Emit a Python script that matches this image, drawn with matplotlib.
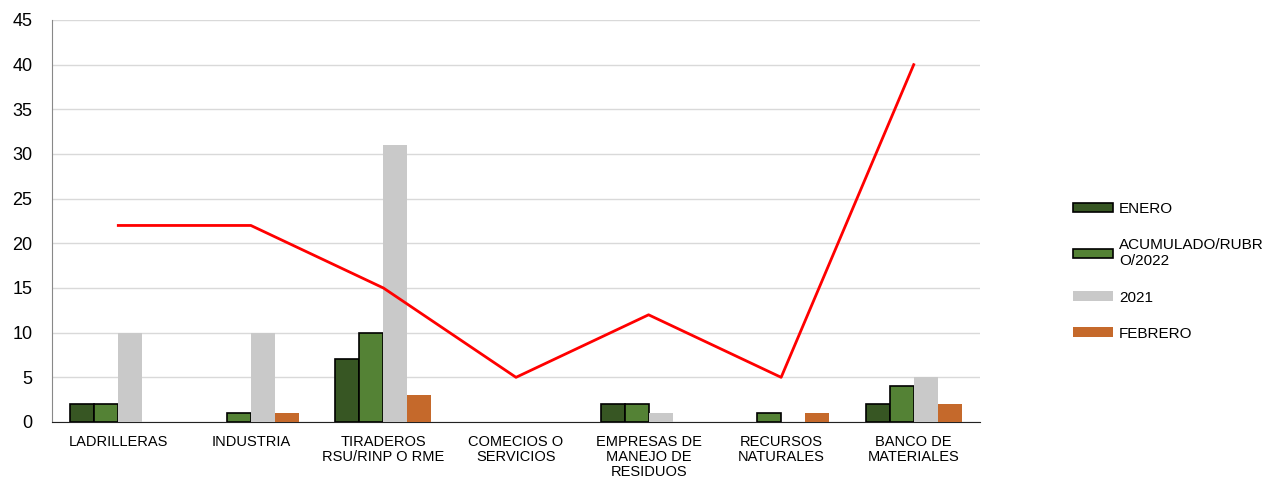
import numpy as np
import matplotlib.pyplot as plt

# datos
categorias = ['LADRILLERAS', 'INDUSTRIA', 'TIRADEROS\nRSU/RINP O RME', 'COMECIOS O\nSERVICIOS',
              'EMPRESAS DE\nMANEJO DE\nRESIDUOS', 'RECURSOS\nNATURALES', 'BANCO DE\nMATERIALES']
enero = [2, 0, 7, 0, 2, 0, 2]
acumulado = [2, 1, 10, 0, 2, 1, 4]
anio_2021 = [10, 10, 31, 0, 1, 0, 5]
febrero = [0, 1, 3, 0, 0, 1, 2]
linea = [22, 22, 15, 5, 12, 5, 40]

plt.rcParams['font.family'] = ['Liberation Sans', 'DejaVu Sans']


def sin_ceros(v):
    # las barras en cero no se dibujan (ni su borde)
    v = np.array(v, dtype=float)
    v[v == 0] = np.nan
    return v


fig = plt.figure(figsize=(12.81, 4.82), dpi=100)
ax = fig.add_axes([52 / 1281, 60 / 482, 928 / 1281, 402 / 482])

x = np.arange(len(categorias))
w = 24 / 132.6

ax.bar(x - 1.5 * w, sin_ceros(enero), w, color='#375623', edgecolor='black', linewidth=1.2,
       label='ENERO', zorder=3)
ax.bar(x - 0.5 * w, sin_ceros(acumulado), w, color='#548235', edgecolor='black', linewidth=1.2,
       label='ACUMULADO/RUBR\nO/2022', zorder=3)
ax.bar(x + 0.5 * w, sin_ceros(anio_2021), w, color='#c9c9c9', edgecolor='none',
       label='2021', zorder=3)
ax.bar(x + 1.5 * w, sin_ceros(febrero), w, color='#c5692b', edgecolor='none',
       label='FEBRERO', zorder=3)
ax.plot(x, linea, color='#ff0000', linewidth=2, zorder=4)

ax.set_xlim(-0.5, len(categorias) - 0.5)
ax.set_ylim(0, 45)
ax.set_yticks(np.arange(0, 46, 5))
ax.set_xticks(x)
ax.set_xticklabels(categorias, fontsize=10.5, linespacing=1.1)
ax.tick_params(axis='x', length=0, pad=9)
ax.tick_params(axis='y', length=0, labelsize=13, pad=14)

ax.grid(axis='y', color='#d9d9d9', linewidth=1, zorder=0)
ax.spines['top'].set_visible(False)
ax.spines['right'].set_visible(False)
ax.spines['left'].set_color('#888888')
ax.spines['bottom'].set_color('#222222')

fig.legend(loc='upper left', bbox_to_anchor=(1073 / 1281, 1 - 202 / 482), frameon=False,
           fontsize=11, handlelength=2.6, handleheight=0.6, handletextpad=0.4,
           labelspacing=1.45, borderaxespad=0, borderpad=0)

fig.savefig('out.png', dpi=100)
